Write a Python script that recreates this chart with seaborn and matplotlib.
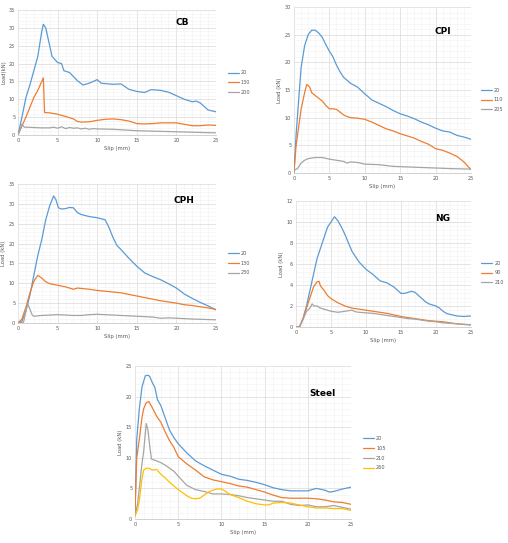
import numpy as np
import pandas as pd
import matplotlib
matplotlib.use("Agg")
import matplotlib.pyplot as plt
import seaborn as sns

sns.set_theme(style="white")
plt.rcParams['font.family'] = ['DejaVu Sans']

BLUE, ORANGE, GRAY, YELLOW = "#5B9BD5", "#ED7D31", "#A5A5A5", "#FFC000"

# ---------------- CB ----------------
cb_labels = ["20", "130", "200"]
cb20_x = [0, 0.5, 1, 1.5, 2, 2.5, 3, 3.2, 3.5, 3.8, 4.3, 5, 5.5, 5.8, 6.5, 7.5, 8.2, 9, 10, 10.5, 12, 13, 14, 15, 16, 16.8, 18, 19, 20, 21, 22, 22.5, 23, 24, 25]
cb20_y = [0, 5, 10.5, 14, 18, 22, 29, 31, 30, 27, 22, 20.3, 20, 18, 17.5, 15.2, 14, 14.5, 15.5, 14.5, 14.2, 14.3, 12.8, 12.2, 11.9, 12.7, 12.5, 12, 11, 10, 9.3, 9.5, 9, 7, 6.5]
cb130_x = [0, 1, 2, 2.5, 3, 3.2, 3.35, 4, 5, 6, 7, 7.5, 8, 9, 10, 11, 12, 13, 14, 15, 16, 17, 18, 20, 21, 22, 23, 24, 25]
cb130_y = [0, 5, 10.5, 12.5, 15, 16, 6.3, 6.2, 5.8, 5.2, 4.5, 3.8, 3.6, 3.7, 4.1, 4.4, 4.5, 4.3, 3.9, 3.2, 3.1, 3.2, 3.4, 3.4, 3.0, 2.6, 2.6, 2.8, 2.7]
cb200_x = [0, 0.5, 0.8, 2, 3, 4, 4.5, 5, 5.5, 6, 6.5, 7, 7.5, 8, 8.5, 9, 9.5, 10, 12, 15, 20, 25]
cb200_y = [0, 3, 2.2, 2.1, 2.0, 2.0, 2.2, 1.9, 2.3, 1.8, 2.1, 1.9, 2.0, 1.7, 1.9, 1.6, 1.8, 1.7, 1.6, 1.2, 0.9, 0.6]

# ---------------- CPI ----------------
cpi_labels = ["20", "110", "205"]
cpi20_x = [0, 0.3, 1, 1.5, 2, 2.5, 3, 3.5, 4, 4.5, 5, 5.5, 6, 6.5, 7, 8, 9, 10, 11, 12, 13, 14, 15, 16, 17, 18, 19, 20, 21, 22, 23, 24, 25]
cpi20_y = [0, 7, 19, 23, 25, 25.8, 25.8, 25.3, 24.5, 23.2, 22, 21, 19.5, 18.3, 17.3, 16.2, 15.5, 14.3, 13.2, 12.6, 12, 11.3, 10.7, 10.3, 9.8, 9.2, 8.7, 8.1, 7.6, 7.4, 6.8, 6.5, 6.1]
cpi110_x = [0, 0.3, 1, 1.5, 1.8, 2.2, 2.5, 3, 3.5, 4, 4.5, 5, 5.5, 6, 6.5, 7, 7.5, 8, 9, 10, 11, 12, 13, 14, 15, 16, 17, 18, 19, 20, 21, 22, 23, 24, 25]
cpi110_y = [0.3, 5, 11.5, 14.5, 16, 15.6, 14.5, 14, 13.5, 13, 12.2, 11.6, 11.6, 11.5, 11, 10.5, 10.2, 10, 9.9, 9.7, 9.2, 8.6, 8, 7.6, 7.1, 6.7, 6.3, 5.7, 5.2, 4.4, 4.1, 3.6, 3.0, 2.0, 0.6]
cpi205_x = [0, 0.5, 1, 1.5, 2, 3, 4, 5, 6, 7, 7.5, 8, 9, 10, 12, 14, 16, 18, 20, 22, 25]
cpi205_y = [0.5, 0.8, 1.8, 2.3, 2.6, 2.8, 2.8, 2.5, 2.3, 2.1, 1.8, 2.0, 1.9, 1.6, 1.5, 1.2, 1.1, 1.0, 0.9, 0.8, 0.7]

# ---------------- CPH ----------------
cph_labels = ["20", "130", "230"]
cph20_x = [0, 0.5, 1, 1.5, 2, 2.5, 3, 3.5, 4, 4.5, 4.8, 5.1, 5.5, 6, 6.5, 7, 7.5, 8, 9, 10, 11, 11.5, 12, 12.5, 13, 14, 15, 16, 17, 18, 19, 20, 21, 22, 23, 24, 25]
cph20_y = [0, 0.5, 3, 7, 12, 17, 21, 26, 29.5, 32, 31, 29, 28.7, 28.8, 29.1, 29, 27.8, 27.3, 26.8, 26.5, 26, 24, 21.5, 19.5, 18.5, 16.3, 14.3, 12.6, 11.7, 10.9, 9.9, 8.8, 7.3, 6.2, 5.2, 4.3, 3.3]
cph130_x = [0, 0.5, 1, 1.5, 2, 2.5, 3, 3.5, 4, 5, 6, 7, 7.5, 8, 9, 10, 11, 12, 13, 14, 15, 16, 17, 18, 19, 20, 21, 22, 23, 24, 25]
cph130_y = [0, 1, 4, 7.5, 10.5, 12, 11.3, 10.4, 9.9, 9.5, 9.1, 8.5, 8.8, 8.7, 8.5, 8.2, 8.0, 7.8, 7.6, 7.2, 6.8, 6.4, 6.0, 5.6, 5.3, 5.0, 4.6, 4.4, 4.1, 3.8, 3.4]
cph230_x = [0, 0.7, 1, 1.2, 1.5, 1.8, 2, 3, 4, 5, 6, 7, 8, 9, 10, 11, 12, 13, 14, 15, 16, 17, 18, 19, 20, 22, 25]
cph230_y = [0, 0.2, 3, 5, 3.5, 2, 1.7, 1.9, 2, 2.1, 2.0, 1.9, 1.9, 2.1, 2.2, 2.1, 2.0, 1.9, 1.8, 1.7, 1.6, 1.5, 1.2, 1.3, 1.2, 1.0, 0.8]

# ---------------- NG ----------------
ng_labels = ["20", "90", "210"]
ng20_x = [0, 0.5, 1, 1.5, 2, 2.5, 3, 3.5, 4, 4.5, 5, 5.5, 6, 6.5, 7, 7.5, 8, 8.5, 9, 10, 11, 12, 13, 14, 14.5, 15, 15.5, 16, 16.5, 17, 17.5, 18, 18.5, 19, 20, 20.5, 21, 21.5, 22, 23, 24, 25]
ng20_y = [0, 0, 0.8, 2, 3.5, 5, 6.5, 7.5, 8.5, 9.5, 10, 10.5, 10.1, 9.5, 8.8, 8, 7.2, 6.7, 6.2, 5.5, 5, 4.4, 4.2, 3.8, 3.5, 3.2, 3.2, 3.3, 3.4, 3.3, 3.0, 2.7, 2.4, 2.2, 2.0, 1.8, 1.5, 1.3, 1.2, 1.05, 1.0, 1.05]
ng90_x = [0, 0.5, 1, 1.5, 2, 2.5, 3, 3.3, 3.5, 4, 4.5, 5, 5.5, 6, 7, 8, 9, 10, 11, 12, 13, 14, 15, 16, 17, 18, 19, 20, 21, 22, 23, 24, 25]
ng90_y = [0, 0, 0.8, 1.8, 2.8, 3.8, 4.3, 4.35, 3.9, 3.5, 3.0, 2.7, 2.5, 2.3, 2.0, 1.8, 1.7, 1.6, 1.5, 1.4, 1.3, 1.15, 1.0, 0.9, 0.8, 0.7, 0.6, 0.55, 0.5, 0.4, 0.3, 0.25, 0.2]
ng210_x = [0, 0.5, 1, 1.5, 2, 2.3, 2.6, 3, 3.5, 4, 5, 6, 7, 8, 8.5, 9, 10, 11, 12, 13, 14, 15, 16, 17, 18, 19, 20, 21, 22, 23, 24, 25]
ng210_y = [0, 0, 0.7, 1.5, 1.8, 2.2, 2.0, 2.0, 1.8, 1.7, 1.5, 1.4, 1.5, 1.6, 1.45, 1.4, 1.35, 1.3, 1.2, 1.1, 1.0, 0.9, 0.8, 0.75, 0.65, 0.55, 0.5, 0.4, 0.35, 0.3, 0.25, 0.2]

# ---------------- Steel ----------------
steel_labels = ["20", "105", "210", "260"]
st20_x = [0, 0.2, 0.5, 0.8, 1, 1.2, 1.5, 1.7, 2, 2.3, 2.6, 3, 3.5, 4, 4.5, 5, 6, 7, 8, 9, 10, 11, 12, 13, 14, 15, 16, 17, 18, 19, 20, 21, 22, 22.5, 23, 24, 25]
st20_y = [0.5, 13, 18, 21.5, 22.5, 23.4, 23.5, 23.3, 22.3, 21.5, 19.5, 18.5, 16.5, 14.5, 13.3, 12.3, 10.8, 9.5, 8.7, 8, 7.3, 7.0, 6.5, 6.3, 6.0, 5.6, 5.1, 4.8, 4.6, 4.6, 4.6, 5.0, 4.7, 4.4, 4.5, 4.9, 5.2]
st105_x = [0, 0.2, 0.5, 0.8, 1, 1.3, 1.6, 2, 2.5, 3, 3.5, 4, 4.5, 5, 6, 7, 8, 9, 10, 11, 12, 13, 14, 15, 16, 17, 18, 19, 20, 21, 22, 23, 24, 25]
st105_y = [1, 10, 13, 16.5, 18, 19, 19.2, 18.2, 16.8, 15.8, 14.2, 12.8, 11.7, 10.2, 9.0, 8.0, 6.9, 6.4, 6.1, 5.8, 5.4, 5.2, 4.8, 4.4, 3.9, 3.5, 3.4, 3.4, 3.4, 3.3, 3.1, 2.8, 2.7, 2.4]
st210_x = [0, 0.3, 0.5, 0.8, 1, 1.3, 1.5, 1.7, 1.9, 2.5, 3, 3.5, 4, 4.5, 5, 6, 7, 8, 9, 10, 11, 12, 13, 14, 15, 16, 17, 18, 19, 20, 21, 22, 23, 24, 25]
st210_y = [0.5, 2.5, 5, 9, 11, 15.6, 14.5, 12, 9.8, 9.5, 9.2, 8.8, 8.3, 7.8, 7.0, 5.5, 4.8, 4.5, 4.1, 4.1, 4.0, 3.8, 3.5, 3.3, 3.1, 2.9, 2.9, 2.4, 2.2, 2.3, 2.0, 2.0, 2.2, 1.9, 1.6]
st260_x = [0, 0.3, 0.5, 0.8, 1, 1.3, 1.6, 2, 2.5, 3, 3.5, 4, 4.5, 5, 5.5, 6, 6.5, 7, 7.5, 8, 8.5, 9, 9.5, 10, 10.5, 11, 12, 13, 14, 15, 15.5, 16, 17, 18, 19, 20, 21, 22, 23, 24, 25]
st260_y = [0.5, 1.5, 3, 6.5, 8, 8.3, 8.3, 8, 8.1, 7.3, 6.7, 6.0, 5.4, 4.8, 4.3, 3.8, 3.4, 3.3, 3.4, 3.9, 4.4, 4.7, 4.9, 4.9, 4.5, 4.0, 3.5, 2.9, 2.5, 2.3, 2.3, 2.6, 2.7, 2.6, 2.3, 2.0, 1.8, 1.8, 1.7, 1.7, 1.4]


def make_df(series):
    rows = []
    for label, xs, ys in series:
        for x, y in zip(xs, ys):
            rows.append({"Slip": x, "Load": y, "Specimen": label})
    return pd.DataFrame(rows)


W, H = 508, 543
fig = plt.figure(figsize=(W / 100, H / 100), dpi=100)


def panel(rect_px, series, colors, title, title_pos, ymax, ystep, ylabel, leg_anchor):
    l, t, r, b = rect_px
    ax = fig.add_axes([l / W, 1 - b / H, (r - l) / W, (b - t) / H])
    df = make_df(series)
    labels = [s[0] for s in series]
    sns.lineplot(data=df, x="Slip", y="Load", hue="Specimen", hue_order=labels,
                 palette=dict(zip(labels, colors)), estimator=None, sort=False,
                 linewidth=0.9, ax=ax)
    ax.set_xlim(0, 25)
    ax.set_ylim(0, ymax)
    ax.set_xticks(np.arange(0, 26, 5))
    ax.set_yticks(np.arange(0, ymax + 0.01, ystep))
    ax.set_xticks(np.arange(0, 26, 1), minor=True)
    ax.set_yticks(np.arange(0, ymax + 0.01, ystep / 5), minor=True)
    ax.grid(which="major", color="#D9D9D9", linewidth=0.5)
    ax.grid(which="minor", color="#F2F2F2", linewidth=0.4)
    ax.set_axisbelow(True)
    for s in ["top", "right", "left"]:
        ax.spines[s].set_visible(False)
    ax.spines["bottom"].set_color("#BFBFBF")
    ax.spines["bottom"].set_linewidth(0.5)
    ax.tick_params(axis="both", which="both", length=0, labelsize=3.6,
                   colors="#595959", pad=2)
    ax.set_xlabel("Slip (mm)", fontsize=3.8, color="#595959", labelpad=2)
    ax.set_ylabel(ylabel, fontsize=3.8, color="#595959", labelpad=2)
    ax.text(title_pos[0], title_pos[1], title, transform=ax.transAxes,
            fontsize=6.5, fontweight="bold", color="black", ha="center", va="center")
    leg = ax.legend(loc="center left", bbox_to_anchor=leg_anchor, frameon=False,
                    fontsize=3.6, handlelength=2.2, handletextpad=0.4,
                    labelspacing=0.95, borderaxespad=0, borderpad=0)
    for txt in leg.get_texts():
        txt.set_color("#595959")
    return ax


panel((18, 10, 216, 135),
      [(cb_labels[0], cb20_x, cb20_y), (cb_labels[1], cb130_x, cb130_y), (cb_labels[2], cb200_x, cb200_y)],
      [BLUE, ORANGE, GRAY], "CB", (0.83, 0.9), 35, 5, "Load(kN)", (1.06, 0.42))

panel((294, 7, 471, 173),
      [(cpi_labels[0], cpi20_x, cpi20_y), (cpi_labels[1], cpi110_x, cpi110_y), (cpi_labels[2], cpi205_x, cpi205_y)],
      [BLUE, ORANGE, GRAY], "CPI", (0.84, 0.85), 30, 5, "Load (kN)", (1.055, 0.44))

panel((18, 184, 216, 323),
      [(cph_labels[0], cph20_x, cph20_y), (cph_labels[1], cph130_x, cph130_y), (cph_labels[2], cph230_x, cph230_y)],
      [BLUE, ORANGE, GRAY], "CPH", (0.84, 0.88), 35, 5, "Load (kN)", (1.06, 0.43))

panel((296, 201, 471, 327),
      [(ng_labels[0], ng20_x, ng20_y), (ng_labels[1], ng90_x, ng90_y), (ng_labels[2], ng210_x, ng210_y)],
      [BLUE, ORANGE, GRAY], "NG", (0.84, 0.86), 12, 2, "Load (kN)", (1.06, 0.43))

panel((135, 366, 351, 519),
      [(steel_labels[0], st20_x, st20_y), (steel_labels[1], st105_x, st105_y),
       (steel_labels[2], st210_x, st210_y), (steel_labels[3], st260_x, st260_y)],
      [BLUE, ORANGE, GRAY, YELLOW], "Steel", (0.866, 0.82), 25, 5, "Load (kN)", (1.056, 0.43))

fig.savefig("out.png", dpi=100)
